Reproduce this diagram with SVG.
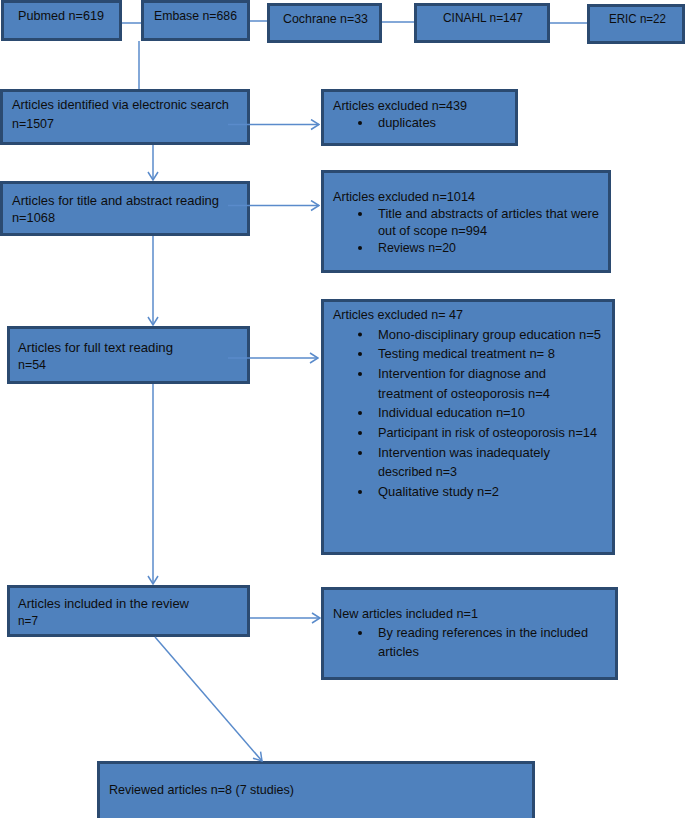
<svg xmlns="http://www.w3.org/2000/svg" width="685" height="818" viewBox="0 0 685 818">
<defs>
<style>
.box{fill:#4f81bd;stroke:#2b4a70;stroke-width:3}
.t{font-family:"Liberation Sans",Arial,sans-serif;font-size:13px;fill:#0d0d0d}
.ln{stroke:#5a8bcb;stroke-width:1.5;fill:none}
.b{fill:#0d0d0d}
</style>
<marker id="ah" markerWidth="10" markerHeight="12" refX="9" refY="6" orient="auto" markerUnits="userSpaceOnUse">
<path d="M1,1 L9,6 L1,11" fill="none" stroke="#5a8bcb" stroke-width="1.5"/>
</marker>
</defs>
<rect width="685" height="818" fill="#ffffff"/>
<g id="pubmed">
<rect class="box" x="2.5" y="1.5" width="118" height="38"/>
<text class="t" x="18" y="20" textLength="86" lengthAdjust="spacingAndGlyphs">Pubmed n=619</text>
</g>
<g id="embase">
<rect class="box" x="142.5" y="1.5" width="106" height="38"/>
<text class="t" x="154" y="20" textLength="83" lengthAdjust="spacingAndGlyphs">Embase n=686</text>
</g>
<g id="cochrane">
<rect class="box" x="268.5" y="4.5" width="112" height="37"/>
<text class="t" x="283" y="22.5" textLength="85" lengthAdjust="spacingAndGlyphs">Cochrane n=33</text>
</g>
<g id="cinahl">
<rect class="box" x="415.5" y="4.5" width="133" height="37"/>
<text class="t" x="443" y="21.5" textLength="80" lengthAdjust="spacingAndGlyphs">CINAHL n=147</text>
</g>
<g id="eric">
<rect class="box" x="588.5" y="5.5" width="95" height="37"/>
<text class="t" x="609" y="23" textLength="57" lengthAdjust="spacingAndGlyphs">ERIC n=22</text>
</g>
<g id="identified">
<rect class="box" x="1.5" y="90.5" width="247" height="53"/>
<text class="t" x="12" y="109" textLength="217" lengthAdjust="spacingAndGlyphs">Articles identified via electronic search</text>
<text class="t" x="12" y="128" textLength="42" lengthAdjust="spacingAndGlyphs">n=1507</text>
</g>
<g id="excluded439">
<rect class="box" x="322.5" y="90.5" width="194" height="54"/>
<text class="t" x="333" y="109.5" textLength="134" lengthAdjust="spacingAndGlyphs">Articles excluded n=439</text>
<circle class="b" cx="360" cy="123" r="2"/>
<text class="t" x="378" y="127" textLength="58" lengthAdjust="spacingAndGlyphs">duplicates</text>
</g>
<g id="titleabstract">
<rect class="box" x="1.5" y="182.5" width="247" height="52"/>
<text class="t" x="12" y="205" textLength="207" lengthAdjust="spacingAndGlyphs">Articles for title and abstract reading</text>
<text class="t" x="12" y="222" textLength="43" lengthAdjust="spacingAndGlyphs">n=1068</text>
</g>
<g id="excluded1014">
<rect class="box" x="322.5" y="171.5" width="287" height="100"/>
<text class="t" x="333" y="200.5" textLength="142" lengthAdjust="spacingAndGlyphs">Articles excluded n=1014</text>
<circle class="b" cx="360" cy="214" r="2"/>
<text class="t" x="378" y="218" textLength="221" lengthAdjust="spacingAndGlyphs">Title and abstracts of articles that were</text>
<text class="t" x="378" y="235" textLength="109" lengthAdjust="spacingAndGlyphs">out of scope n=994</text>
<circle class="b" cx="360" cy="248" r="2"/>
<text class="t" x="378" y="252" textLength="78" lengthAdjust="spacingAndGlyphs">Reviews n=20</text>
</g>
<g id="fulltext">
<rect class="box" x="8.5" y="327.5" width="240" height="55"/>
<text class="t" x="18" y="352" textLength="155" lengthAdjust="spacingAndGlyphs">Articles for full text reading</text>
<text class="t" x="18" y="369" textLength="28" lengthAdjust="spacingAndGlyphs">n=54</text>
</g>
<g id="excluded47">
<rect class="box" x="322.5" y="300.5" width="291" height="253"/>
<text class="t" x="333" y="319" textLength="130" lengthAdjust="spacingAndGlyphs">Articles excluded n= 47</text>
<circle class="b" cx="360" cy="334.5" r="2"/>
<text class="t" x="378" y="338.5" textLength="223" lengthAdjust="spacingAndGlyphs">Mono-disciplinary group education n=5</text>
<circle class="b" cx="360" cy="354" r="2"/>
<text class="t" x="378" y="358" textLength="177" lengthAdjust="spacingAndGlyphs">Testing medical treatment n= 8</text>
<circle class="b" cx="360" cy="374" r="2"/>
<text class="t" x="378" y="378" textLength="168" lengthAdjust="spacingAndGlyphs">Intervention for diagnose and</text>
<text class="t" x="378" y="397.5" textLength="172" lengthAdjust="spacingAndGlyphs">treatment of osteoporosis n=4</text>
<circle class="b" cx="360" cy="413" r="2"/>
<text class="t" x="378" y="417" textLength="147" lengthAdjust="spacingAndGlyphs">Individual education n=10</text>
<circle class="b" cx="360" cy="433" r="2"/>
<text class="t" x="378" y="437" textLength="219" lengthAdjust="spacingAndGlyphs">Participant in risk of osteoporosis n=14</text>
<circle class="b" cx="360" cy="453" r="2"/>
<text class="t" x="378" y="457" textLength="172" lengthAdjust="spacingAndGlyphs">Intervention was inadequately</text>
<text class="t" x="378" y="476" textLength="79" lengthAdjust="spacingAndGlyphs">described n=3</text>
<circle class="b" cx="360" cy="492" r="2"/>
<text class="t" x="378" y="496" textLength="121" lengthAdjust="spacingAndGlyphs">Qualitative study n=2</text>
</g>
<g id="included">
<rect class="box" x="8.5" y="586.5" width="240" height="49"/>
<text class="t" x="18" y="607.5" textLength="171" lengthAdjust="spacingAndGlyphs">Articles included in the review</text>
<text class="t" x="18" y="625" textLength="20" lengthAdjust="spacingAndGlyphs">n=7</text>
</g>
<g id="newarticles">
<rect class="box" x="322.5" y="588.5" width="294" height="90"/>
<text class="t" x="333" y="617.5" textLength="145" lengthAdjust="spacingAndGlyphs">New articles included n=1</text>
<circle class="b" cx="360" cy="633" r="2"/>
<text class="t" x="378" y="637" textLength="210" lengthAdjust="spacingAndGlyphs">By reading references in the included</text>
<text class="t" x="378" y="656" textLength="41" lengthAdjust="spacingAndGlyphs">articles</text>
</g>
<g id="reviewed">
<rect class="box" x="98.5" y="762.5" width="435" height="60"/>
<text class="t" x="109" y="794" textLength="185" lengthAdjust="spacingAndGlyphs">Reviewed articles n=8 (7 studies)</text>
</g>
<g id="connectors">
<line class="ln" x1="122" y1="23" x2="141" y2="23"/>
<line class="ln" x1="250" y1="21" x2="267" y2="21"/>
<line class="ln" x1="382" y1="22" x2="414" y2="22"/>
<line class="ln" x1="550" y1="23" x2="587" y2="23"/>
<line class="ln" x1="139" y1="41" x2="139" y2="89"/>
<line class="ln" x1="228" y1="124.5" x2="319" y2="124.5" marker-end="url(#ah)"/>
<line class="ln" x1="153" y1="145" x2="153" y2="180" marker-end="url(#ah)"/>
<line class="ln" x1="228" y1="205.5" x2="319" y2="205.5" marker-end="url(#ah)"/>
<line class="ln" x1="153" y1="236" x2="153" y2="325" marker-end="url(#ah)"/>
<line class="ln" x1="228" y1="358" x2="318" y2="358" marker-end="url(#ah)"/>
<line class="ln" x1="153" y1="384" x2="153" y2="584" marker-end="url(#ah)"/>
<line class="ln" x1="250" y1="618" x2="320" y2="618" marker-end="url(#ah)"/>
<line class="ln" x1="155" y1="637" x2="262" y2="761" marker-end="url(#ah)"/>
</g>
</svg>
